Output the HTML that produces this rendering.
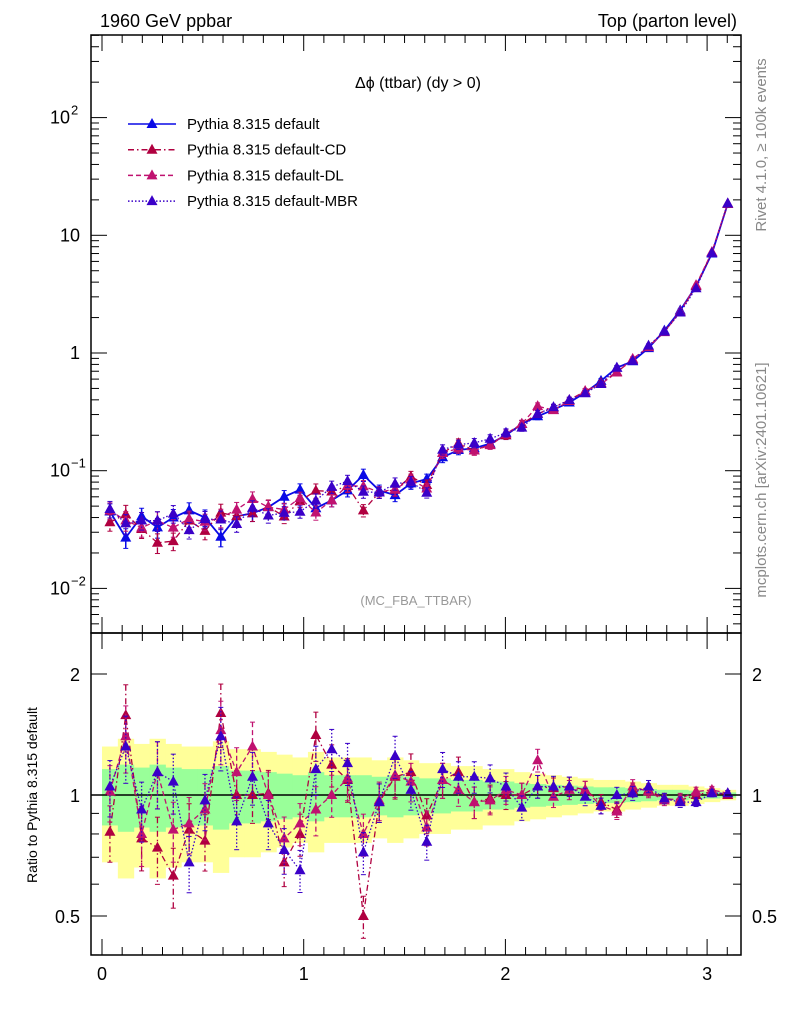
<!DOCTYPE html>
<html><head><meta charset="utf-8"><style>
body{margin:0;background:#fff;}
svg{display:block;font-family:"Liberation Sans",sans-serif;}
</style></head><body>
<svg id="chart" width="786" height="1024" viewBox="0 0 786 1024" xmlns="http://www.w3.org/2000/svg">
<text x="100" y="27" font-size="18">1960 GeV ppbar</text>
<text x="737" y="27" font-size="18" text-anchor="end">Top (parton level)</text>
<text x="418" y="88" font-size="16" text-anchor="middle">Δϕ (ttbar) (dy &gt; 0)</text>
<text x="416" y="605" font-size="13" fill="#999" text-anchor="middle">(MC_FBA_TTBAR)</text>
<text transform="translate(766,145) rotate(-90)" font-size="15" fill="#888" text-anchor="middle">Rivet 4.1.0, ≥ 100k events</text>
<text transform="translate(766,480) rotate(-90)" font-size="15" fill="#888" text-anchor="middle">mcplots.cern.ch [arXiv:2401.10621]</text>
<text transform="translate(37,795) rotate(-90)" font-size="14" text-anchor="middle">Ratio to Pythia 8.315 default</text>
<g id="g"></g>
</svg>
<script>
const defaultVals=[0.045,0.027,0.041,0.033,0.040,0.046,0.040,0.0275,0.041,0.0435,0.049,0.060,0.069,0.048,0.056,0.068,0.092,0.068,0.062,0.078,0.085,0.13,0.15,0.155,0.17,0.20,0.25,0.29,0.33,0.38,0.46,0.58,0.75,0.85,1.1,1.55,2.3,3.7,7.0,18.5];
const relErr=[0.16,0.19,0.17,0.19,0.17,0.16,0.16,0.18,0.15,0.15,0.14,0.13,0.12,0.14,0.12,0.12,0.12,0.11,0.12,0.11,0.10,0.10,0.09,0.09,0.08,0.08,0.07,0.065,0.06,0.055,0.05,0.045,0.045,0.04,0.035,0.03,0.03,0.025,0.02,0.015];
const ratioCD=[0.81,1.58,0.78,0.74,0.63,0.82,0.77,1.60,1.0,1.0,1.01,0.68,0.80,1.41,1.19,1.09,0.50,0.96,1.11,1.14,0.89,1.09,1.14,0.96,0.98,1.0,1.0,1.05,1.04,1.05,1.03,0.96,0.92,1.03,1.03,0.98,0.97,1.0,1.02,1.0];
const ratioDL=[1.02,1.40,0.80,1.14,0.82,0.85,0.92,1.45,1.14,1.32,1.0,0.78,0.85,0.92,1.0,1.10,0.80,0.97,1.12,1.08,0.83,1.09,1.03,0.96,0.97,1.03,1.0,1.22,0.99,1.03,1.03,0.94,0.91,1.05,1.02,0.97,0.98,1.02,1.03,1.01];
const ratioMBR=[1.05,1.32,0.92,1.14,1.08,0.68,0.97,1.40,0.86,1.11,0.85,0.73,0.65,1.16,1.30,1.20,0.72,0.96,1.25,1.03,0.765,1.16,1.11,1.11,1.10,1.05,0.93,1.05,1.05,1.05,0.99,0.94,1.0,1.01,1.05,0.98,0.96,0.96,1.01,1.01];
const xTicks=[0,1,2,3];
const NB=40, BW=Math.PI/40;
const L=91,R=741,T=35,M=633,B=955;
const X=v=>102+201.7*v;
const Y=v=>353-117.7*Math.log10(v);
const YR=r=>795-121*Math.log2(r);
const g=document.getElementById('g');
const NS='http://www.w3.org/2000/svg';
function el(tag,at,parent){const e=document.createElementNS(NS,tag);for(const k in at)e.setAttribute(k,at[k]);(parent||g).appendChild(e);return e;}
// ratio bands
const bands=el('g',{});


for(let i=0;i<NB;i++){
  const x0=X(i*BW),x1=X((i+1)*BW),e=relErr[i];
  const y=el('rect',{x:x0,y:YR(1+2*e),width:x1-x0+0.5,height:YR(Math.max(1-2*e,0.3))-YR(1+2*e),fill:'#ffff99'},bands);
  
  
}
for(let i=0;i<NB;i++){
  const x0=X(i*BW),x1=X((i+1)*BW),e=relErr[i];
  const gr=el('rect',{x:x0,y:YR(1+e),width:x1-x0+0.5,height:YR(1-e)-YR(1+e),fill:'#99ff99'},bands);
  
  
}
el('line',{x1:L,x2:R,y1:YR(1),y2:YR(1),stroke:'#000','stroke-width':1.5});
const series=[
 {name:'default',label:'Pythia 8.315 default',color:'#0a0ae6',dash:'',ratio:defaultVals.map(()=>1)},
 {name:'default-cd',label:'Pythia 8.315 default-CD',color:'#b00040',dash:'6,3,1.5,3',ratio:ratioCD},
 {name:'default-dl',label:'Pythia 8.315 default-DL',color:'#c01270',dash:'5,3',ratio:ratioDL},
 {name:'default-mbr',label:'Pythia 8.315 default-MBR',color:'#3a00c8',dash:'1.5,2',ratio:ratioMBR}
];
function tri(x,y,c,p,nm){const t=el('path',{d:`M${x},${y-6}L${x+5.5},${y+4}L${x-5.5},${y+4}Z`,fill:c},p);}
series.forEach((s,si)=>{
  const gm=el('g',{});
  const gr=el('g',{});
  let pm=[],pr=[];
  for(let i=0;i<NB;i++){
    const xc=X((i+0.5)*BW),v=defaultVals[i]*s.ratio[i],e=relErr[i];
    const y=Y(v),yr=YR(s.ratio[i]);
    pm.push(xc+','+y);pr.push(xc+','+yr);
    const w=s.dash?'1.3':'1.5';
    el('line',{x1:xc,x2:xc,y1:Y(v*(1+e)),y2:Y(v*(1-e)),stroke:s.color,'stroke-width':w,'stroke-dasharray':s.dash},gm);
    el('line',{x1:xc-2.5,x2:xc+2.5,y1:Y(v*(1+e)),y2:Y(v*(1+e)),stroke:s.color},gm);
    el('line',{x1:xc-2.5,x2:xc+2.5,y1:Y(v*(1-e)),y2:Y(v*(1-e)),stroke:s.color},gm);
    if(si>0){const r=s.ratio[i];
      el('line',{x1:xc,x2:xc,y1:YR(r*(1+e)),y2:YR(r*(1-e)),stroke:s.color,'stroke-width':w,'stroke-dasharray':s.dash},gr);
      el('line',{x1:xc-2.5,x2:xc+2.5,y1:YR(r*(1+e)),y2:YR(r*(1+e)),stroke:s.color},gr);
      el('line',{x1:xc-2.5,x2:xc+2.5,y1:YR(r*(1-e)),y2:YR(r*(1-e)),stroke:s.color},gr);}
  }
  el('polyline',{points:pm.join(' '),fill:'none',stroke:s.color,'stroke-width':s.dash?1.3:1.8,'stroke-dasharray':s.dash},gm);
  if(si>0)el('polyline',{points:pr.join(' '),fill:'none',stroke:s.color,'stroke-width':1.3,'stroke-dasharray':s.dash},gr);
  for(let i=0;i<NB;i++){const xc=X((i+0.5)*BW);
    tri(xc,Y(defaultVals[i]*s.ratio[i]),s.color,gm,'point-'+s.name);
    if(si>0)tri(xc,YR(s.ratio[i]),s.color,gr,'ratio-point-'+s.name);}
  // legend
  const ly=124+si*25.7;
  const lg=el('g',{});
  el('line',{x1:128,x2:176,y1:ly,y2:ly,stroke:s.color,'stroke-width':1.5,'stroke-dasharray':s.dash},lg);
  tri(152,ly,s.color,lg,'legend-marker');
  const t=el('text',{x:187,y:ly+5,'font-size':15},lg);t.textContent=s.label;
});
// frames
el('rect',{x:L,y:T,width:R-L,height:M-T,fill:'none',stroke:'#000','stroke-width':1.5});
el('rect',{x:L,y:M,width:R-L,height:B-M,fill:'none',stroke:'#000','stroke-width':1.5});
// log y ticks main
for(let d=-3;d<=2;d++)for(let k=1;k<10;k++){const v=k*Math.pow(10,d);const y=Y(v);if(y<T||y>M)continue;
  const len=k==1?16:8;el('line',{x1:L,x2:L+len,y1:y,y2:y,stroke:'#000'});el('line',{x1:R,x2:R-len,y1:y,y2:y,stroke:'#000'});}
const ylab=[[100,'10','2'],[10,'10',''],[1,'1',''],[0.1,'10','−1'],[0.01,'10','−2']];
ylab.forEach(([v,b,s])=>{const y=Y(v);const t=el('text',{x:s?70:80,y:y+6,'font-size':18,'text-anchor':'end'});t.textContent=b;
  if(s){const u=el('text',{x:71,y:y-3,'font-size':13});u.textContent=s;}});
// ratio ticks
[0.4,0.5,0.6,0.7,0.8,0.9,1,2].forEach(r=>{const y=YR(r);const len=(r==1||r==2||r==0.5)?16:8;
  el('line',{x1:L,x2:L+len,y1:y,y2:y,stroke:'#000'});el('line',{x1:R,x2:R-len,y1:y,y2:y,stroke:'#000'});});
[[2,'2'],[1,'1'],[0.5,'0.5']].forEach(([r,s])=>{const y=YR(r);
  const a=el('text',{x:80,y:y+7,'font-size':18,'text-anchor':'end'});a.textContent=s;
  const b=el('text',{x:752,y:y+7,'font-size':18});b.textContent=s;});
// x ticks
for(let i=0;i<=31;i++){const v=i/10;const x=X(v);if(x>R)continue;const len=i%10==0?16:8;
  [[M,1],[B,-1],[T,1]].forEach(([y0,dir])=>el('line',{x1:x,x2:x,y1:y0,y2:y0+dir*len,stroke:'#000'}));
  el('line',{x1:x,x2:x,y1:M,y2:M-len,stroke:'#000'});}
xTicks.forEach(v=>{const t=el('text',{x:X(v),y:980,'font-size':18,'text-anchor':'middle'});t.textContent=v;});
</script>
</body></html>
